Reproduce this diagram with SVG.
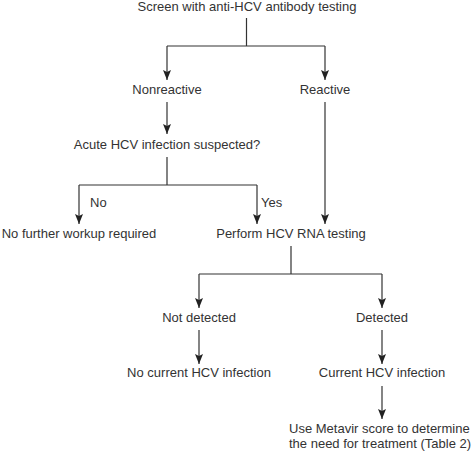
<svg xmlns="http://www.w3.org/2000/svg" width="474" height="452" viewBox="0 0 474 452">
<defs>
<marker id="ah" viewBox="0 0 10 8" refX="10" refY="4" markerWidth="10" markerHeight="8" markerUnits="userSpaceOnUse" orient="auto">
<path d="M0,0 L10,4 L0,8 L2,4 Z" fill="#222"/>
</marker>
<style>
text{font-family:"Liberation Sans",Arial,sans-serif;font-size:13px;fill:#333;}
.c{text-anchor:middle;}
.ln{stroke:#333;stroke-width:1.2;fill:none;}
.ar{marker-end:url(#ah);}
</style>
</defs>
<rect width="474" height="452" fill="#fff"/>
<g id="connectors">
<path class="ln" d="M246.5,18 V46 M167,46 H325"/>
<path class="ln ar" d="M167,46 V80"/>
<path class="ln ar" d="M325,46 V80"/>
<path class="ln ar" d="M167,102 V134"/>
<path class="ln ar" d="M325,102 V224"/>
<path class="ln" d="M167,157 V185 M79,185 H257"/>
<path class="ln ar" d="M79,185 V224"/>
<path class="ln ar" d="M257,185 V224"/>
<path class="ln" d="M291,246 V274 M199,274 H382"/>
<path class="ln ar" d="M199,274 V308"/>
<path class="ln ar" d="M382,274 V308"/>
<path class="ln ar" d="M199,330 V364"/>
<path class="ln ar" d="M382,330 V364"/>
<path class="ln ar" d="M382,386 V419"/>
</g>
<g id="labels">
<text x="90" y="207">No</text>
<text x="261" y="207">Yes</text>
</g>
<g id="n-screen"><text class="c" x="247" y="11">Screen with anti-HCV antibody testing</text></g>
<g id="n-nonreactive"><text class="c" x="167" y="94">Nonreactive</text></g>
<g id="n-reactive"><text class="c" x="325" y="94">Reactive</text></g>
<g id="n-acute"><text class="c" x="167" y="149">Acute HCV infection suspected?</text></g>
<g id="n-nofurther"><text class="c" x="79" y="238">No further workup required</text></g>
<g id="n-rna"><text class="c" x="291" y="238">Perform HCV RNA testing</text></g>
<g id="n-notdetected"><text class="c" x="199" y="322">Not detected</text></g>
<g id="n-detected"><text class="c" x="382" y="322">Detected</text></g>
<g id="n-nocurrent"><text class="c" x="199" y="377">No current HCV infection</text></g>
<g id="n-current"><text class="c" x="382" y="377">Current HCV infection</text></g>
<g id="n-metavir"><text x="289" y="433">Use Metavir score to determine</text><text x="289" y="448">the need for treatment (Table 2)</text></g>
</svg>
